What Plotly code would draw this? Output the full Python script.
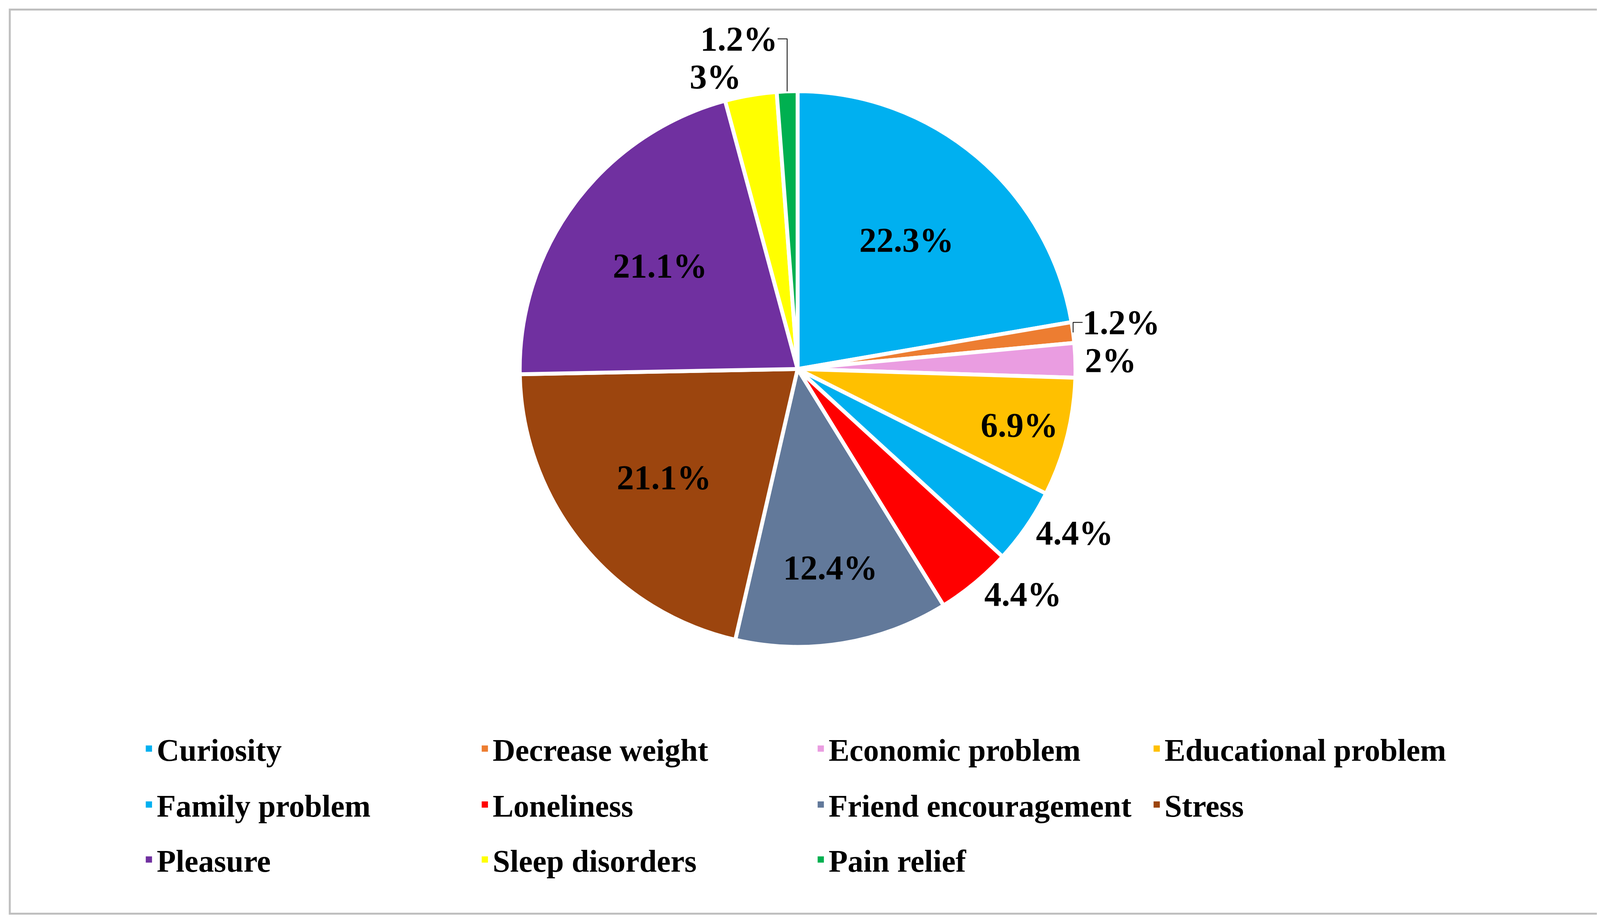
import plotly.graph_objects as go

labels = ["Curiosity", "Decrease weight", "Economic problem", "Educational problem",
          "Family problem", "Loneliness", "Friend encouragement", "Stress",
          "Pleasure", "Sleep disorders", "Pain relief"]
values = [22.3, 1.2, 2, 6.9, 4.4, 4.4, 12.4, 21.1, 21.1, 3, 1.2]
text_labels = ["22.3%", "1.2%", "2%", "6.9%", "4.4%", "4.4%", "12.4%", "21.1%", "21.1%", "3%", "1.2%"]
colors = ["#00B0F0", "#ED7D31", "#EA9DE1", "#FFC000", "#00B0F0", "#FF0000",
          "#62799A", "#9C450E", "#7030A0", "#FFFF00", "#00B050"]
positions = ["inside", "outside", "outside", "inside", "outside", "outside",
             "inside", "inside", "inside", "outside", "outside"]

FONT = "Liberation Serif"
fig = go.Figure()
fig.add_trace(go.Pie(
    labels=labels, values=values, text=text_labels, textinfo="text",
    textposition=positions, sort=False, direction="clockwise", rotation=0,
    marker=dict(colors=colors, line=dict(color="white", width=10)),
    textfont=dict(family=FONT, size=88, color="black", weight="bold"),
    insidetextorientation="horizontal",
    domain=dict(x=[0.31, 0.646], y=[0.298, 0.904]),
    showlegend=False, hoverinfo="label+percent",
))

rows = [labels[0:4], labels[4:8], labels[8:11]]
legend_names = ["legend", "legend2", "legend3"]
ys = [0.212, 0.151, 0.091]
idx = 0
for r, row in enumerate(rows):
    for name in row:
        fig.add_trace(go.Scatter(
            x=[None], y=[None], mode="markers", name=name,
            marker=dict(symbol="square", size=30, color=colors[idx]),
            legend=legend_names[r], showlegend=True))
        idx += 1

leg_common = dict(orientation="h", xanchor="left", yanchor="top", x=0.083,
                  entrywidth=815, entrywidthmode="pixels",
                  font=dict(family=FONT, size=80, color="black", weight="bold"),
                  bgcolor="rgba(0,0,0,0)", itemwidth=30)
fig.update_layout(
    width=4255, height=2348, paper_bgcolor="white", plot_bgcolor="white",
    margin=dict(l=0, r=0, t=0, b=0),
    xaxis=dict(visible=False), yaxis=dict(visible=False),
    legend=dict(**leg_common, y=ys[0]),
    legend2=dict(**leg_common, y=ys[1]),
    legend3=dict(**leg_common, y=ys[2]),
    shapes=[dict(type="rect", xref="paper", yref="paper", x0=0.004, x1=0.996, y0=0.007, y1=0.993,
                 line=dict(color="#BFBFBF", width=5))],
)
fig.write_html("out.html")
